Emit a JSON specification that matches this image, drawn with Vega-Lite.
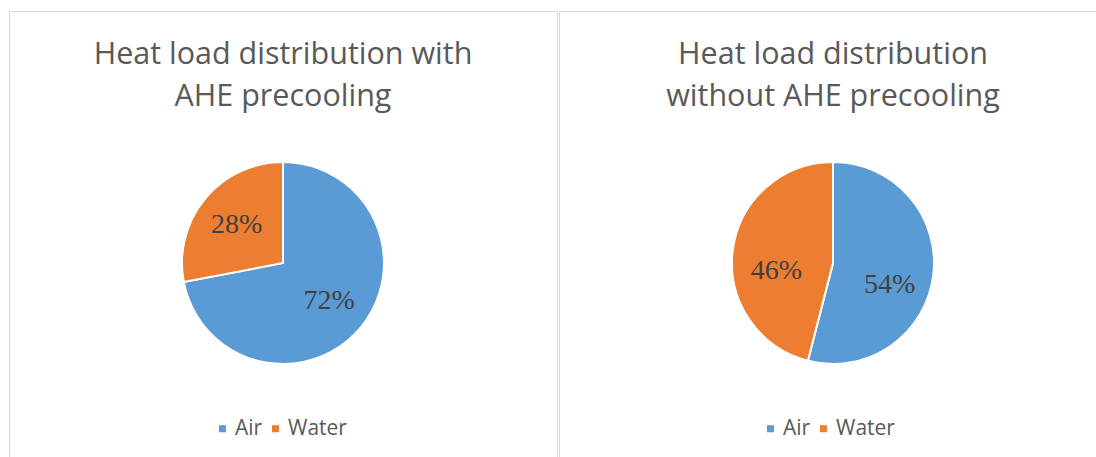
{
  "$schema": "https://vega.github.io/schema/vega-lite/v6.json",
  "padding": {"left": 8, "top": 10, "right": 0, "bottom": 0},
  "background": "white",
  "spacing": 0,
  "config": {
    "view": {"stroke": "#d9d9d9", "strokeWidth": 1},
    "title": {"font": "Open Sans", "fontSize": 30.5, "fontWeight": "normal", "color": "#595959", "lineHeight": 42, "offset": -101, "anchor": "middle"},
    "legend": {"labelFont": "Open Sans", "labelFontSize": 21, "labelColor": "#595959", "symbolType": "square", "symbolSize": 50, "symbolStrokeWidth": 0, "columnPadding": 2, "symbolOffset": 0, "labelOffset": 2}
  },
  "datasets": {
    "with": [
      {"category": "Air", "share": 0.72},
      {"category": "Water", "share": 0.28}
    ],
    "without": [
      {"category": "Air", "share": 0.54},
      {"category": "Water", "share": 0.46}
    ]
  },
  "resolve": {"legend": {"color": "independent"}, "scale": {"color": "independent", "theta": "independent"}},
  "hconcat": [
    {
      "width": 548,
      "height": 504,
      "view": {"stroke": "#d9d9d9"},
      "title": {"text": ["Heat load distribution with", "AHE precooling"]},
      "data": {"name": "with"},
      "encoding": {
        "theta": {"field": "share", "type": "quantitative", "stack": true},
        "order": {"field": "category", "sort": "ascending"},
        "color": {"field": "category", "type": "nominal", "scale": {"domain": ["Air", "Water"], "range": ["#5B9BD5", "#ED7D31"]},
          "legend": {"title": null, "orient": "none", "direction": "horizontal", "legendX": 203, "legendY": 407}}
      },
      "layer": [
        {"mark": {"type": "arc", "outerRadius": 101, "stroke": "white", "strokeWidth": 2}},
        {"mark": {"type": "text", "radius": 60, "font": "Liberation Serif", "fontSize": 28},
         "encoding": {"text": {"field": "share", "type": "quantitative", "format": ".0%"}, "detail": {"field": "category"}, "color": {"value": "#404040"}}}
      ]
    },
    {
      "width": 548,
      "height": 504,
      "view": {"stroke": "#d9d9d9"},
      "title": {"text": ["Heat load distribution", "without AHE precooling"]},
      "data": {"name": "without"},
      "encoding": {
        "theta": {"field": "share", "type": "quantitative", "stack": true},
        "order": {"field": "category", "sort": "ascending"},
        "color": {"field": "category", "type": "nominal", "scale": {"domain": ["Air", "Water"], "range": ["#5B9BD5", "#ED7D31"]},
          "legend": {"title": null, "orient": "none", "direction": "horizontal", "legendX": 201, "legendY": 407}}
      },
      "layer": [
        {"mark": {"type": "arc", "outerRadius": 101, "stroke": "white", "strokeWidth": 2}},
        {"mark": {"type": "text", "radius": 57, "dy": 15, "font": "Liberation Serif", "fontSize": 28},
         "encoding": {"text": {"field": "share", "type": "quantitative", "format": ".0%"}, "detail": {"field": "category"}, "color": {"value": "#404040"}}}
      ]
    }
  ]
}
